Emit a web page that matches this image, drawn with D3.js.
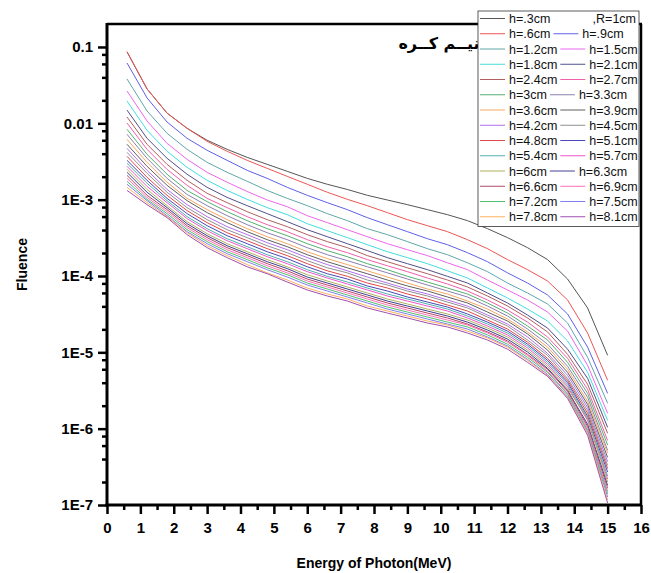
<!DOCTYPE html>
<html>
<head>
<meta charset="utf-8">
<script src="https://cdn.jsdelivr.net/npm/d3@7"></script>
<style>
  body { margin: 0; background: #fff; }
  svg { display: block; font-family: "Liberation Sans", Arial, "DejaVu Sans", sans-serif; }
</style>
</head>
<body>
<svg id="chart"></svg>
<script>
// photon energy (MeV) of every point
const energy = [0.6, 1.2, 1.8, 2.4, 3.0, 3.6, 4.2, 4.8, 5.4, 6.0, 6.6, 7.2, 7.8, 8.4, 9.0, 9.6, 10.2, 10.8, 11.4, 12.0, 12.6, 13.2, 13.8, 14.4, 15.0];

// fluence for each height h
const h03 = [8.6e-2, 2.82e-2, 1.36e-2, 8.6e-3, 6.0e-3, 4.56e-3, 3.58e-3, 2.90e-3, 2.35e-3, 1.90e-3, 1.59e-3, 1.36e-3, 1.14e-3, 9.9e-4, 8.6e-4, 7.4e-4, 6.36e-4, 5.31e-4, 4.17e-4, 3.18e-4, 2.35e-4, 1.64e-4, 9.13e-5, 3.81e-5, 9.13e-6];
const h06 = [8.7e-2, 2.82e-2, 1.36e-2, 8.6e-3, 5.81e-3, 4.30e-3, 3.27e-3, 2.57e-3, 2.02e-3, 1.59e-3, 1.25e-3, 1.01e-3, 8.34e-4, 6.76e-4, 5.47e-4, 4.56e-4, 3.81e-4, 2.99e-4, 2.28e-4, 1.64e-4, 1.21e-4, 8.60e-5, 4.85e-5, 1.79e-5, 4.30e-6];
const h09 = [6.17e-2, 2.15e-2, 1.04e-2, 6.36e-3, 4.43e-3, 3.27e-3, 2.42e-3, 1.90e-3, 1.45e-3, 1.14e-3, 9.13e-4, 7.40e-4, 5.81e-4, 4.70e-4, 3.81e-4, 3.08e-4, 2.57e-4, 2.02e-4, 1.54e-4, 1.10e-4, 8.09e-5, 5.64e-5, 3.18e-5, 1.17e-5, 2.90e-6];
const h12 = [3.81e-2, 1.45e-2, 7.40e-3, 4.56e-3, 3.08e-3, 2.28e-3, 1.74e-3, 1.32e-3, 1.04e-3, 8.34e-4, 6.56e-4, 5.31e-4, 4.17e-4, 3.48e-4, 2.82e-4, 2.28e-4, 1.90e-4, 1.49e-4, 1.14e-4, 8.09e-5, 5.99e-5, 4.30e-5, 2.42e-5, 8.60e-6, 2.15e-6];
const h15 = [2.65e-2, 1.07e-2, 5.47e-3, 3.37e-3, 2.28e-3, 1.69e-3, 1.28e-3, 9.9e-4, 8.09e-4, 6.17e-4, 5.00e-4, 4.04e-4, 3.27e-4, 2.65e-4, 2.21e-4, 1.85e-4, 1.49e-4, 1.21e-4, 8.86e-5, 6.56e-5, 4.85e-5, 3.37e-5, 1.90e-5, 6.76e-6, 1.59e-6];
const h18 = [1.96e-2, 8.09e-3, 4.30e-3, 2.65e-3, 1.79e-3, 1.32e-3, 1.01e-3, 7.86e-4, 6.36e-4, 4.85e-4, 3.92e-4, 3.18e-4, 2.57e-4, 2.08e-4, 1.74e-4, 1.45e-4, 1.17e-4, 9.41e-5, 6.96e-5, 5.15e-5, 3.69e-5, 2.57e-5, 1.41e-5, 5.47e-6, 1.28e-6];
const h21 = [1.49e-2, 6.36e-3, 3.48e-3, 2.15e-3, 1.45e-3, 1.07e-3, 8.34e-4, 6.56e-4, 5.15e-4, 4.04e-4, 3.27e-4, 2.65e-4, 2.15e-4, 1.74e-4, 1.45e-4, 1.21e-4, 9.9e-5, 8.09e-5, 5.99e-5, 4.43e-5, 3.08e-5, 2.08e-5, 1.10e-5, 4.56e-6, 1.04e-6];
const h24 = [1.21e-2, 5.31e-3, 2.90e-3, 1.79e-3, 1.21e-3, 9.13e-4, 6.96e-4, 5.47e-4, 4.43e-4, 3.48e-4, 2.82e-4, 2.35e-4, 1.85e-4, 1.54e-4, 1.28e-4, 1.07e-4, 8.86e-5, 7.18e-5, 5.47e-5, 4.04e-5, 2.82e-5, 1.85e-5, 9.41e-6, 3.81e-6, 8.7e-7];
const h27 = [1.01e-2, 4.56e-3, 2.49e-3, 1.54e-3, 1.04e-3, 7.86e-4, 5.99e-4, 4.70e-4, 3.81e-4, 2.99e-4, 2.42e-4, 2.02e-4, 1.64e-4, 1.36e-4, 1.14e-4, 9.41e-5, 7.86e-5, 6.36e-5, 4.85e-5, 3.58e-5, 2.49e-5, 1.59e-5, 8.34e-6, 3.27e-6, 7.0e-7];
const h30 = [8.34e-3, 3.92e-3, 2.15e-3, 1.32e-3, 9.41e-4, 6.96e-4, 5.31e-4, 4.17e-4, 3.37e-4, 2.65e-4, 2.15e-4, 1.79e-4, 1.45e-4, 1.21e-4, 9.9e-5, 8.34e-5, 6.96e-5, 5.81e-5, 4.43e-5, 3.27e-5, 2.21e-5, 1.45e-5, 7.40e-6, 2.90e-6, 6.1e-7];
const h33 = [7.18e-3, 3.48e-3, 1.90e-3, 1.17e-3, 8.34e-4, 6.17e-4, 4.70e-4, 3.69e-4, 2.99e-4, 2.35e-4, 1.90e-4, 1.59e-4, 1.32e-4, 1.10e-4, 9.13e-5, 7.62e-5, 6.36e-5, 5.31e-5, 4.04e-5, 2.99e-5, 2.02e-5, 1.28e-5, 6.56e-6, 2.57e-6, 5.2e-7];
const h36 = [6.17e-3, 3.08e-3, 1.69e-3, 1.04e-3, 7.40e-4, 5.47e-4, 4.17e-4, 3.27e-4, 2.65e-4, 2.08e-4, 1.69e-4, 1.41e-4, 1.17e-4, 9.70e-5, 8.09e-5, 6.76e-5, 5.81e-5, 4.70e-5, 3.69e-5, 2.73e-5, 1.85e-5, 1.17e-5, 5.99e-6, 2.28e-6, 4.8e-7];
const h39 = [5.31e-3, 2.73e-3, 1.54e-3, 9.70e-4, 6.76e-4, 5.00e-4, 3.81e-4, 2.99e-4, 2.42e-4, 1.90e-4, 1.54e-4, 1.28e-4, 1.07e-4, 8.86e-5, 7.40e-5, 6.36e-5, 5.31e-5, 4.43e-5, 3.37e-5, 2.57e-5, 1.74e-5, 1.07e-5, 5.47e-6, 2.08e-6, 4.2e-7];
const h42 = [4.70e-3, 2.42e-3, 1.36e-3, 8.60e-4, 5.99e-4, 4.43e-4, 3.48e-4, 2.73e-4, 2.21e-4, 1.74e-4, 1.41e-4, 1.17e-4, 9.70e-5, 8.09e-5, 6.76e-5, 5.81e-5, 4.85e-5, 4.04e-5, 3.08e-5, 2.35e-5, 1.59e-5, 9.70e-6, 5.00e-6, 1.90e-6, 3.7e-7];
const h45 = [4.17e-3, 2.21e-3, 1.25e-3, 7.86e-4, 5.47e-4, 4.04e-4, 3.18e-4, 2.49e-4, 2.02e-4, 1.59e-4, 1.28e-4, 1.10e-4, 8.86e-5, 7.62e-5, 6.36e-5, 5.47e-5, 4.56e-5, 3.81e-5, 2.90e-5, 2.21e-5, 1.45e-5, 9.13e-6, 4.56e-6, 1.74e-6, 3.3e-7];
const h48 = [3.69e-3, 1.96e-3, 1.14e-3, 7.18e-4, 5.00e-4, 3.69e-4, 2.90e-4, 2.28e-4, 1.85e-4, 1.45e-4, 1.17e-4, 9.9e-5, 8.09e-5, 6.96e-5, 5.81e-5, 5.00e-5, 4.17e-5, 3.48e-5, 2.65e-5, 2.02e-5, 1.36e-5, 8.34e-6, 4.30e-6, 1.59e-6, 3.0e-7];
const h51 = [3.27e-3, 1.79e-3, 1.04e-3, 6.56e-4, 4.56e-4, 3.37e-4, 2.65e-4, 2.08e-4, 1.69e-4, 1.32e-4, 1.07e-4, 9.13e-5, 7.40e-5, 6.36e-5, 5.31e-5, 4.56e-5, 3.92e-5, 3.18e-5, 2.49e-5, 1.90e-5, 1.28e-5, 7.86e-6, 4.04e-6, 1.45e-6, 2.7e-7];
const h54 = [2.99e-3, 1.64e-3, 9.70e-4, 5.99e-4, 4.17e-4, 3.08e-4, 2.42e-4, 1.90e-4, 1.54e-4, 1.21e-4, 9.9e-5, 8.34e-5, 6.96e-5, 5.81e-5, 5.00e-5, 4.30e-5, 3.69e-5, 2.99e-5, 2.35e-5, 1.79e-5, 1.21e-5, 7.40e-6, 3.81e-6, 1.36e-6, 2.4e-7];
const h57 = [2.73e-3, 1.49e-3, 9.13e-4, 5.64e-4, 3.92e-4, 2.90e-4, 2.28e-4, 1.79e-4, 1.45e-4, 1.14e-4, 9.41e-5, 7.86e-5, 6.56e-5, 5.47e-5, 4.70e-5, 4.04e-5, 3.48e-5, 2.82e-5, 2.21e-5, 1.69e-5, 1.14e-5, 6.96e-6, 3.58e-6, 1.28e-6, 2.2e-7];
const h60 = [2.49e-3, 1.36e-3, 8.34e-4, 5.15e-4, 3.58e-4, 2.65e-4, 2.08e-4, 1.64e-4, 1.32e-4, 1.04e-4, 8.60e-5, 7.18e-5, 5.99e-5, 5.00e-5, 4.30e-5, 3.69e-5, 3.18e-5, 2.65e-5, 2.08e-5, 1.59e-5, 1.07e-5, 6.56e-6, 3.37e-6, 1.36e-6, 2.0e-7];
const h63 = [2.28e-3, 1.25e-3, 7.86e-4, 4.85e-4, 3.37e-4, 2.49e-4, 1.96e-4, 1.54e-4, 1.25e-4, 9.70e-5, 8.09e-5, 6.76e-5, 5.64e-5, 4.70e-5, 4.04e-5, 3.48e-5, 2.99e-5, 2.49e-5, 1.96e-5, 1.49e-5, 1.01e-5, 6.17e-6, 3.18e-6, 1.14e-6, 1.8e-7];
const h66 = [2.08e-3, 1.14e-3, 7.40e-4, 4.56e-4, 3.18e-4, 2.35e-4, 1.85e-4, 1.45e-4, 1.17e-4, 9.13e-5, 7.62e-5, 6.36e-5, 5.31e-5, 4.43e-5, 3.81e-5, 3.27e-5, 2.82e-5, 2.35e-5, 1.85e-5, 1.41e-5, 9.41e-6, 5.99e-6, 3.08e-6, 1.07e-6, 1.65e-7];
const h69 = [1.90e-3, 1.07e-3, 6.96e-4, 4.30e-4, 2.99e-4, 2.21e-4, 1.74e-4, 1.36e-4, 1.10e-4, 8.60e-5, 7.18e-5, 5.99e-5, 5.00e-5, 4.17e-5, 3.58e-5, 3.08e-5, 2.65e-5, 2.28e-5, 1.79e-5, 1.36e-5, 9.13e-6, 5.64e-6, 2.90e-6, 1.01e-6, 1.5e-7];
const h72 = [1.74e-3, 1.01e-3, 6.56e-4, 4.04e-4, 2.82e-4, 2.08e-4, 1.64e-4, 1.28e-4, 1.04e-4, 8.09e-5, 6.76e-5, 5.64e-5, 4.70e-5, 3.92e-5, 3.37e-5, 2.90e-5, 2.49e-5, 2.15e-5, 1.69e-5, 1.28e-5, 8.60e-6, 5.47e-6, 2.82e-6, 9.5e-7, 1.4e-7];
const h75 = [1.59e-3, 9.70e-4, 6.17e-4, 3.81e-4, 2.65e-4, 1.96e-4, 1.54e-4, 1.21e-4, 9.70e-5, 7.62e-5, 6.36e-5, 5.31e-5, 4.43e-5, 3.69e-5, 3.18e-5, 2.73e-5, 2.35e-5, 2.02e-5, 1.59e-5, 1.21e-5, 8.09e-6, 5.15e-6, 2.65e-6, 9.0e-7, 1.27e-7];
const h78 = [1.45e-3, 9.13e-4, 5.99e-4, 3.69e-4, 2.49e-4, 1.85e-4, 1.41e-4, 1.10e-4, 8.86e-5, 6.96e-5, 5.81e-5, 5.00e-5, 4.04e-5, 3.48e-5, 2.99e-5, 2.57e-5, 2.28e-5, 1.90e-5, 1.54e-5, 1.17e-5, 7.86e-6, 5.00e-6, 2.57e-6, 8.7e-7, 1.16e-7];
const h81 = [1.32e-3, 8.60e-4, 5.81e-4, 3.48e-4, 2.35e-4, 1.74e-4, 1.32e-4, 1.07e-4, 8.34e-5, 6.56e-5, 5.47e-5, 4.70e-5, 3.81e-5, 3.27e-5, 2.82e-5, 2.42e-5, 2.15e-5, 1.79e-5, 1.45e-5, 1.10e-5, 7.40e-6, 4.85e-6, 2.49e-6, 8.2e-7, 1.06e-7];

const labels = ["h=.3cm", "h=.6cm", "h=.9cm", "h=1.2cm", "h=1.5cm", "h=1.8cm", "h=2.1cm", "h=2.4cm", "h=2.7cm",
  "h=3cm", "h=3.3cm", "h=3.6cm", "h=3.9cm", "h=4.2cm", "h=4.5cm", "h=4.8cm", "h=5.1cm", "h=5.4cm", "h=5.7cm",
  "h=6cm", "h=6.3cm", "h=6.6cm", "h=6.9cm", "h=7.2cm", "h=7.5cm", "h=7.8cm", "h=8.1cm"];
const series = [h03, h06, h09, h12, h15, h18, h21, h24, h27, h30, h33, h36, h39, h42, h45, h48, h51, h54, h57, h60, h63, h66, h69, h72, h75, h78, h81];

const xTicks = d3.range(0, 17);
const yTicks = [1e-1, 1e-2, 1e-3, 1e-4, 1e-5, 1e-6, 1e-7];
const yTickText = ["0.1", "0.01", "1E-3", "1E-4", "1E-5", "1E-6", "1E-7"];

const colors = ["#555555", "#ee5555", "#6060e8", "#5fa8a8", "#ee66ee", "#44dddd", "#50508a", "#b06060", "#ee60a8",
  "#55b070", "#8a80b0", "#f4a860", "#606060", "#b070ee", "#909090", "#e04848", "#4848b8", "#50b0b0", "#ee55cc",
  "#b0b060", "#404090", "#b04868", "#ff70b8", "#50c070", "#8080f0", "#ffb060", "#a050b0"];

const width = 651, height = 573;
const plot = { left: 107, right: 641, top: 24, bottom: 505 };

const svg = d3.select("#chart").attr("width", width).attr("height", height);

const x = d3.scaleLinear().domain([0, 16]).range([plot.left, plot.right]);
const y = d3.scaleLog().domain([1e-7, 0.2]).range([plot.bottom, plot.top]);

// curves
const line = d3.line()
    .x((d, i) => x(energy[i]))
    .y(d => y(d));

svg.append("g")
    .selectAll("path")
    .data(series)
    .enter()
    .append("path")
    .attr("fill", "none")
    .attr("stroke", (d, i) => colors[i])
    .attr("stroke-width", 1)
    .attr("d", line);

// minor ticks
const minorX = d3.range(0.5, 16, 1);
const minorY = [];
yTicks.forEach(t => [2, 4, 6, 8].forEach(m => { if (t * m < 0.2) minorY.push(t * m); }));

svg.append("g")
    .attr("transform", `translate(0,${plot.bottom})`)
    .call(d3.axisBottom(x).tickValues(minorX).tickSize(5).tickFormat(""))
    .call(g => g.select(".domain").remove())
    .call(g => g.selectAll("line").attr("stroke-width", 2.5));

svg.append("g")
    .attr("transform", `translate(${plot.left},0)`)
    .call(d3.axisLeft(y).tickValues(minorY).tickSize(5).tickFormat(""))
    .call(g => g.select(".domain").remove())
    .call(g => g.selectAll("line").attr("stroke-width", 2.5));

// major ticks
const xAxis = svg.append("g")
    .attr("transform", `translate(0,${plot.bottom})`)
    .call(d3.axisBottom(x).tickValues(xTicks).tickSize(9).tickPadding(8).tickFormat(d3.format("d")));
xAxis.select(".domain").remove();
xAxis.selectAll("line").attr("stroke-width", 2.5);
xAxis.selectAll("text")
    .style("font-size", "15px")
    .style("font-weight", "bold")
    .attr("fill", "#000");

const yAxis = svg.append("g")
    .attr("transform", `translate(${plot.left},0)`)
    .call(d3.axisLeft(y).tickValues(yTicks).tickSize(9).tickPadding(5).tickFormat((d, i) => yTickText[i]));
yAxis.select(".domain").remove();
yAxis.selectAll("line").attr("stroke-width", 2.5);
yAxis.selectAll("text")
    .style("font-size", "15px")
    .style("font-weight", "bold")
    .attr("fill", "#000");

// frame
svg.append("line").attr("x1", plot.left).attr("x2", plot.right + 1).attr("y1", plot.top).attr("y2", plot.top)
    .attr("stroke", "#000").attr("stroke-width", 2.5);
svg.append("line").attr("x1", plot.right).attr("x2", plot.right).attr("y1", plot.top).attr("y2", plot.bottom)
    .attr("stroke", "#000").attr("stroke-width", 2.5);
svg.append("line").attr("x1", plot.left - 1.5).attr("x2", plot.right + 1).attr("y1", plot.bottom).attr("y2", plot.bottom)
    .attr("stroke", "#000").attr("stroke-width", 3);
svg.append("line").attr("x1", plot.left).attr("x2", plot.left).attr("y1", plot.top - 1).attr("y2", plot.bottom + 1.5)
    .attr("stroke", "#000").attr("stroke-width", 3);

// axis titles
svg.append("text")
    .attr("x", (plot.left + plot.right) / 2)
    .attr("y", 568)
    .attr("text-anchor", "middle")
    .style("font-size", "14px")
    .style("font-weight", "bold")
    .text("Energy of Photon(MeV)");

svg.append("text")
    .attr("transform", "rotate(-90)")
    .attr("x", -(plot.top + plot.bottom) / 2)
    .attr("y", 27)
    .attr("text-anchor", "middle")
    .style("font-size", "14px")
    .style("font-weight", "bold")
    .text("Fluence");

// title inside the plot
svg.append("text")
    .attr("x", 439)
    .attr("y", 49)
    .attr("text-anchor", "middle")
    .style("font-family", "'DejaVu Sans', sans-serif")
    .style("font-size", "16px")
    .style("font-weight", "bold")
    .text("نيــم كــره");

// legend
const legend = svg.append("g");
const lg = { left: 478, top: 11, width: 161, rowH: 15.25 };
legend.append("rect")
    .attr("x", lg.left).attr("y", lg.top)
    .attr("width", lg.width).attr("height", lg.rowH * 14 + 2)
    .attr("fill", "#fff").attr("stroke", "#333").attr("stroke-width", 0.8);

const rows = [[0]];
for (let r = 1; r < 14; r++) rows.push([2 * r - 1, 2 * r]);

rows.forEach((row, r) => {
    const cy = lg.top + 7.5 + r * lg.rowH;
    let cx = lg.left + 2;
    row.forEach(k => {
        legend.append("line")
            .attr("x1", cx).attr("x2", cx + 25)
            .attr("y1", cy).attr("y2", cy)
            .attr("stroke", colors[k]).attr("stroke-width", 1);
        const t = legend.append("text")
            .attr("x", cx + 29).attr("y", cy)
            .attr("dy", "0.36em")
            .style("font-size", "12.5px")
            .attr("fill", "#111")
            .text(labels[k]);
        cx = cx + 29 + t.node().getComputedTextLength() + 3;
    });
    if (r === 0) {
        legend.append("text")
            .attr("x", lg.left + lg.width - 3).attr("y", cy)
            .attr("dy", "0.36em")
            .attr("text-anchor", "end")
            .style("font-size", "12.5px")
            .attr("fill", "#111")
            .text(",R=1cm");
    }
});
</script>
</body>
</html>
